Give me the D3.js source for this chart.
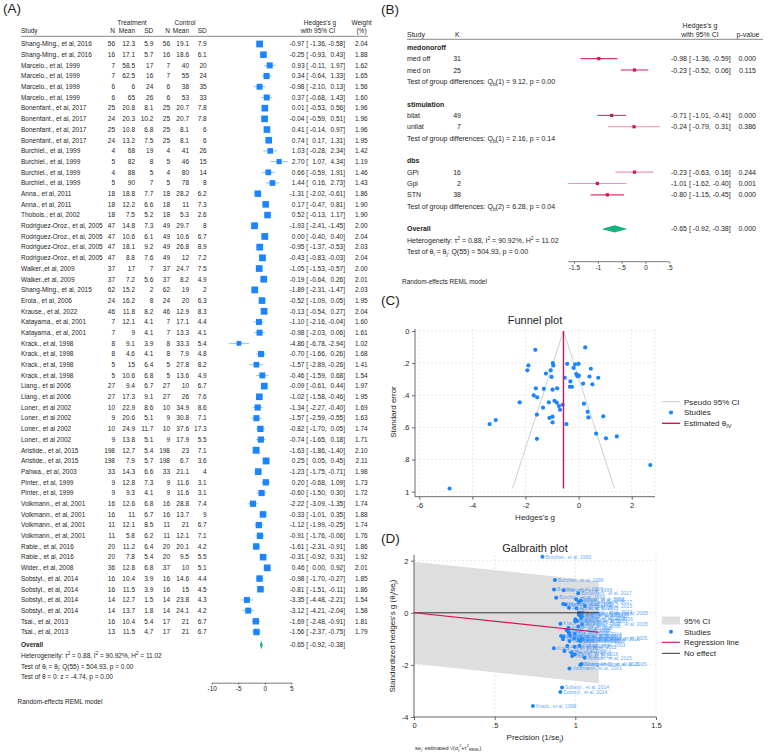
<!DOCTYPE html>
<html>
<head>
<meta charset="utf-8">
<script src="https://cdn.jsdelivr.net/npm/d3@7"></script>
<style>
  html, body { margin: 0; padding: 0; background: #fff; }
  svg { display: block; font-family: "Liberation Sans", Arial, Helvetica, sans-serif; }
</style>
</head>
<body>
<svg id="fig" width="767" height="754"></svg>
<script>
// ============================================================
// Meta-analysis figure: forest plot, subgroup forest, funnel, Galbraith
// ============================================================

// ---- (A) study-level data ----
const studies = [
  'Shang-Ming., et al, 2016', 'Shang-Ming., et al, 2016',
  'Marcelo., et al, 1999', 'Marcelo., et al, 1999', 'Marcelo., et al, 1999', 'Marcelo., et al, 1999',
  'Bonenfant., et al, 2017', 'Bonenfant., et al, 2017', 'Bonenfant., et al, 2017', 'Bonenfant., et al, 2017',
  'Burchiel., et al, 1999', 'Burchiel., et al, 1999', 'Burchiel., et al, 1999', 'Burchiel., et al, 1999',
  'Anna., et al, 2011', 'Anna., et al, 2011', 'Thobois., et al, 2002',
  'Rodriguez-Oroz., et al, 2005', 'Rodriguez-Oroz., et al, 2005', 'Rodriguez-Oroz., et al, 2005', 'Rodriguez-Oroz., et al, 2005',
  'Walker.,et al, 2009', 'Walker.,et al, 2009', 'Shang-Ming., et al, 2015',
  'Erola., et al, 2006', 'Krause., et al, 2022', 'Katayama., et al, 2001', 'Katayama., et al, 2001',
  'Krack., et al, 1998', 'Krack., et al, 1998', 'Krack., et al, 1998', 'Krack., et al, 1998',
  'Liang., et al 2006', 'Liang., et al 2006',
  'Loner., et al 2002', 'Loner., et al 2002', 'Loner., et al 2002', 'Loner., et al 2002',
  'Aristide., et al, 2015', 'Aristide., et al, 2015', 'Pahwa., et al, 2003',
  'Pinter., et al, 1999', 'Pinter., et al, 1999',
  'Volkmann., et al, 2001', 'Volkmann., et al, 2001', 'Volkmann., et al, 2001', 'Volkmann., et al, 2001',
  'Rabie., et al, 2016', 'Rabie., et al, 2016', 'Wider., et al, 2008',
  'Sobstyl., et al, 2014', 'Sobstyl., et al, 2014', 'Sobstyl., et al, 2014', 'Sobstyl., et al, 2014',
  'Tsai., et al, 2013', 'Tsai., et al, 2013'
];
const trtN = [56,16,7,7,6,6,25,24,25,24,4,5,4,5,18,18,18,47,47,47,47,37,37,62,24,46,7,7,8,8,5,5,27,27,10,9,10,9,198,198,33,9,9,16,16,11,11,20,20,36,16,16,14,14,16,13];
const trtMean = [12.3,17.1,58.5,62.5,6,65,20.8,20.3,10.8,13.2,68,82,88,90,18.8,12.2,7.5,14.8,10.6,18.1,8.8,17,7.2,15.2,16.2,11.8,12.1,9,9.1,4.6,15,10.6,9.4,17.3,22.9,20.6,24.9,13.8,12.7,7.9,14.3,12.8,9.3,12.6,11,12.1,5.8,11.2,7.8,12.8,10.4,11.5,12.7,13.7,10.4,11.5];
const trtSD = [5.9,5.7,17,16,24,26,8.1,10.2,6.8,7.5,19,8,5,7,7.7,6.6,5.2,7.3,6.1,9.2,7.6,7,5.6,2,8,8.2,4.1,4.1,3.9,4.1,6.4,6.8,6.7,9.1,8.6,5.1,11.7,5.1,5.4,5.7,6.6,7.3,4.1,6.8,6.7,8.5,6.2,6.4,5.4,6.8,3.9,3.9,1.5,1.8,5.4,4.7];
const ctlN = [56,16,7,7,6,6,25,25,25,25,4,5,4,5,18,18,18,49,49,49,49,37,37,62,24,46,7,7,8,8,5,5,27,27,10,9,10,9,198,198,33,9,9,16,16,11,11,20,20,37,16,16,14,14,17,17];
const ctlMean = [19.1,18.6,40,55,38,53,20.7,20.7,8.1,8.1,41,46,80,78,28.2,11,5.3,29.7,10.6,26.8,12,24.7,8.2,19,20,12.9,17.1,13.3,33.3,7.9,27.8,13.6,10,26,34.9,30.8,37.6,17.9,23,6.7,21.1,11.6,11.6,28.8,13.7,21,12.1,20.1,9.5,10,14.6,15,23.8,24.1,21,21];
const ctlSD = [7.9,6.1,20,24,35,33,7.8,7.8,6,6,26,15,14,8,6.2,7.3,2.6,8,6.7,8.9,7.2,7.5,4.9,2,6.3,8.3,4.4,4.1,5.4,4.8,8.2,4.9,6.7,7.6,8.6,7.1,17.3,5.5,7.1,3.6,4,3.1,3.1,7.4,9,6.7,7.1,4.2,5.5,5.1,4.4,4.5,4.3,4.2,6.7,6.7];
const hedgesG = [-0.97,-0.25,0.93,0.34,-0.98,0.37,0.01,-0.04,0.41,0.74,1.03,2.70,0.66,1.44,-1.31,0.17,0.52,-1.93,0.00,-0.95,-0.43,-1.05,-0.19,-1.89,-0.52,-0.13,-1.10,-0.98,-4.86,-0.70,-1.57,-0.46,-0.09,-1.02,-1.34,-1.57,-0.82,-0.74,-1.63,0.25,-1.23,0.20,-0.60,-2.22,-0.33,-1.12,-0.91,-1.61,-0.31,0.46,-0.98,-0.81,-3.35,-3.12,-1.69,-1.56];
const ciLow = [-1.36,-0.93,-0.11,-0.64,-2.10,-0.68,-0.53,-0.59,-0.14,0.17,-0.28,1.07,-0.59,0.16,-2.02,-0.47,-0.13,-2.41,-0.40,-1.37,-0.83,-1.53,-0.64,-2.31,-1.09,-0.54,-2.16,-2.03,-6.78,-1.66,-2.89,-1.59,-0.61,-1.58,-2.27,-2.59,-1.70,-1.65,-1.86,0.05,-1.75,-0.68,-1.50,-3.09,-1.01,-1.99,-1.76,-2.31,-0.92,0.00,-1.70,-1.51,-4.48,-4.21,-2.48,-2.37];
const ciHigh = [-0.58,0.43,1.97,1.33,0.13,1.43,0.56,0.51,0.97,1.31,2.34,4.34,1.91,2.73,-0.61,0.81,1.17,-1.45,0.40,-0.53,-0.03,-0.57,0.26,-1.47,0.05,0.27,-0.04,0.06,-2.94,0.26,-0.26,0.68,0.44,-0.46,-0.40,-0.55,0.05,0.18,-1.40,0.45,-0.71,1.09,0.30,-1.35,0.35,-0.25,-0.06,-0.91,0.31,0.92,-0.27,-0.11,-2.21,-2.04,-0.91,-0.75];
const weights = [2.04,1.88,1.62,1.65,1.56,1.60,1.96,1.96,1.96,1.95,1.42,1.19,1.46,1.43,1.86,1.90,1.90,2.00,2.04,2.03,2.04,2.00,2.01,2.03,1.95,2.04,1.60,1.61,1.02,1.68,1.41,1.54,1.97,1.95,1.69,1.63,1.74,1.71,2.10,2.11,1.98,1.73,1.72,1.74,1.88,1.74,1.76,1.86,1.92,2.01,1.85,1.86,1.54,1.58,1.81,1.79];
// standard errors of each Hedges's g (funnel y values)
const stdErr = [0.199,0.347,0.531,0.503,0.569,0.538,0.278,0.281,0.283,0.291,0.668,0.834,0.638,0.656,0.360,0.327,0.332,0.245,0.204,0.214,0.204,0.245,0.230,0.214,0.291,0.207,0.541,0.533,0.980,0.490,0.671,0.579,0.268,0.286,0.477,0.520,0.446,0.467,0.117,0.102,0.265,0.452,0.459,0.444,0.347,0.444,0.434,0.357,0.314,0.235,0.365,0.357,0.579,0.554,0.401,0.413];

const overall = { g: -0.65, lo: -0.92, hi: -0.38, p: '0.000' };
const tau2 = 0.88;
const thetaIV = -0.57;       // common-effect estimate drawn in the funnel
const galbraithMaxX = 1.145; // right end of CI band / lines in Galbraith plot

const statLines = [
  'Heterogeneity: τ^{2} = 0.88, I^{2} = 90.92%, H^{2} = 11.02',
  'Test of θ_{i} = θ_{j}: Q(55) = 504.93, p = 0.00',
  'Test of θ = 0: z = -4.74, p = 0.00'
];

// ---- (B) subgroup data ----
const groupNames = ['medonoroff', 'stimulation', 'dbs'];
const groupTests = [
  'Test of group differences: Q_{b}(1) = 9.12, p = 0.00',
  'Test of group differences: Q_{b}(1) = 2.16, p = 0.14',
  'Test of group differences: Q_{b}(2) = 6.28, p = 0.04'
];
const subLabel = ['med off', 'med on', 'bilat', 'unilat', 'GPi', 'Gpi', 'STN'];
const subGroup = [0, 0, 1, 1, 2, 2, 2];
const subK = [31, 25, 49, 7, 16, 2, 38];
const subG = [-0.98, -0.23, -0.71, -0.24, -0.23, -1.01, -0.80];
const subLo = [-1.36, -0.52, -1.01, -0.79, -0.63, -1.62, -1.15];
const subHi = [-0.59, 0.06, -0.41, 0.31, 0.16, -0.40, -0.45];
const subP = ['0.000', '0.115', '0.000', '0.386', '0.244', '0.001', '0.000'];

// ---- tick values / labels ----
const forestATicks = [-10, -5, 0, 5];
const forestBTicks = [-1.5, -1, -0.5, 0, 0.5];
const forestBLabels = ['-1.5', '-1', '-.5', '0', '.5'];
const funnelXTicks = [-6, -4, -2, 0, 2];
const funnelYTicks = [0, 0.2, 0.4, 0.6, 0.8, 1];
const funnelYLabels = ['0', '.2', '.4', '.6', '.8', '1'];
const galbXTicks = [0, 0.5, 1, 1.5];
const galbXLabels = ['0', '.5', '1', '1.5'];
const galbYTicks = [2, 0, -2, -4];

// ---- colours ----
const INK = '#1e1e1e';
const BLUE = '#1a85ff';
const PINK = '#d41159';
const GREEN = '#16b37c';
const GRID = '#e2e2e2';
const AXIS = '#444';

const svg = d3.select('#fig');
// plain hyphen-minus, like the original Stata output
const fmt = d3.formatLocale({ decimal: '.', thousands: ',', grouping: [3], currency: ['', ''], minus: '-' }).format;
const f2 = fmt('.2f');
const fInt = fmt('d');

// text with _{sub} and ^{sup} markup
function rich(text, str, fs) {
  const parts = str.split(/(_\{[^}]*\}|\^\{[^}]*\})/).filter(Boolean);
  let cur = 0;
  parts.forEach(p => {
    let off = 0, s = p, small = false;
    if (p.startsWith('_{')) { off = 0.28 * fs; s = p.slice(2, -1); small = true; }
    else if (p.startsWith('^{')) { off = -0.42 * fs; s = p.slice(2, -1); small = true; }
    const t = text.append('tspan').attr('dy', off - cur).text(s);
    if (small) t.attr('font-size', fs * 0.7);
    cur = off;
  });
  return text;
}

function label(g, x, y, str, fs, anchor) {
  const t = g.append('text').attr('x', x).attr('y', y).attr('font-size', fs)
    .attr('text-anchor', anchor || 'start');
  return rich(t, str, fs);
}

// CI text "g [ lo, hi]" with right-aligned columns
function ciText(g, y, vals, cols) {
  g.append('text').attr('x', cols.g).attr('y', y).attr('text-anchor', 'end').text(f2(vals.g));
  g.append('text').attr('x', cols.lb).attr('y', y).text('[');
  g.append('text').attr('x', cols.lo).attr('y', y).attr('text-anchor', 'end').text(f2(vals.lo));
  g.append('text').attr('x', cols.lo).attr('y', y).text(',');
  g.append('text').attr('x', cols.hi).attr('y', y).attr('text-anchor', 'end').text(f2(vals.hi));
  g.append('text').attr('x', cols.hi).attr('y', y).text(']');
}

// panel letters
[['(A)', 3, 13], ['(B)', 381, 13.5], ['(C)', 381, 305], ['(D)', 381, 543]].forEach(([t, x, y]) => {
  svg.append('text').attr('x', x).attr('y', y).attr('font-size', 13.5).attr('fill', INK).text(t);
});

// ============================================================
// (A) Forest plot
// ============================================================
(function () {
  const FS = 6.5;
  const A = svg.append('g').attr('font-size', FS).attr('fill', INK);
  const rowY = d3.scaleLinear().domain([0, studies.length - 1]).range([44, 632]);
  const x = d3.scaleLinear().domain([-10, 5]).range([211.7, 291.3]);
  const side = d3.scaleSqrt().domain([0, d3.max(weights)]).range([0, 6.9]);
  const cols = { g: 304.5, lb: 306.3, lo: 324.8, hi: 343.2 };
  const numCols = [[trtN, 115], [trtMean, 135], [trtSD, 153.3], [ctlN, 170], [ctlMean, 189], [ctlSD, 206.7]];

  // header
  A.append('text').attr('x', 132).attr('y', 25).attr('text-anchor', 'middle').text('Treatment');
  A.append('text').attr('x', 185).attr('y', 25).attr('text-anchor', 'middle').text('Control');
  A.append('text').attr('x', 21).attr('y', 33).text('Study');
  ['N', 'Mean', 'SD', 'N', 'Mean', 'SD'].forEach((h, k) => {
    A.append('text').attr('x', numCols[k][1]).attr('y', 33).attr('text-anchor', 'end').text(h);
  });
  A.append('text').attr('x', 320).attr('y', 25).attr('text-anchor', 'middle').text("Hedges's g");
  A.append('text').attr('x', 318).attr('y', 33).attr('text-anchor', 'middle').text('with 95% CI');
  A.append('text').attr('x', 361.5).attr('y', 25).attr('text-anchor', 'middle').text('Weight');
  A.append('text').attr('x', 361.5).attr('y', 33).attr('text-anchor', 'middle').text('(%)');
  A.append('line').attr('x1', 21).attr('x2', 368).attr('y1', 36.3).attr('y2', 36.3)
    .attr('stroke', '#555').attr('stroke-width', 0.7);

  // rows
  studies.forEach((name, i) => {
    const yc = rowY(i), yb = yc + 2.3;
    const row = A.append('g');
    row.append('text').attr('x', 21).attr('y', yb).text(name);
    numCols.forEach(([arr, cx]) => {
      row.append('text').attr('x', cx).attr('y', yb).attr('text-anchor', 'end').text(arr[i]);
    });
    ciText(row, yb, { g: hedgesG[i], lo: ciLow[i], hi: ciHigh[i] }, cols);
    row.append('text').attr('x', 367.7).attr('y', yb).attr('text-anchor', 'end').text(f2(weights[i]));

    row.append('line').attr('x1', x(ciLow[i])).attr('x2', x(ciHigh[i])).attr('y1', yc).attr('y2', yc)
      .attr('stroke', BLUE).attr('stroke-opacity', 0.5).attr('stroke-width', 1);
    const s = side(weights[i]);
    row.append('rect').attr('x', x(hedgesG[i]) - s / 2).attr('y', yc - s / 2)
      .attr('width', s).attr('height', s).attr('fill', BLUE);
  });

  // overall
  const yo = 645;
  A.append('text').attr('x', 21).attr('y', yo + 2.3).attr('font-weight', 'bold').text('Overall');
  A.append('path').attr('fill', GREEN)
    .attr('d', `M${x(overall.lo)},${yo}L${x(overall.g)},${yo - 4.2}L${x(overall.hi)},${yo}L${x(overall.g)},${yo + 4.2}Z`);
  ciText(A, yo + 2.3, overall, cols);
  statLines.forEach((s, k) => label(A, 21, 658 + k * 10.6, s, FS));

  // axis
  const axis = A.append('g').attr('transform', 'translate(0,682.7)')
    .call(d3.axisBottom(x).tickValues(forestATicks).tickFormat(fInt).tickSize(2).tickPadding(1.5).tickSizeOuter(0));
  axis.select('.domain').attr('stroke', AXIS).attr('stroke-width', 0.7);
  axis.selectAll('line').attr('stroke', AXIS).attr('stroke-width', 0.7);
  axis.selectAll('text').attr('font-size', FS).attr('fill', INK).attr('font-family', null);

  A.append('text').attr('x', 17.5).attr('y', 703.5).text('Random-effects REML model');
})();

// ============================================================
// (B) Subgroup forest plot
// ============================================================
(function () {
  const FS = 7;
  const B = svg.append('g').attr('font-size', FS).attr('fill', INK);
  const x = d3.scaleLinear().domain([-1.5, 0.5]).range([574, 669.3]);
  const lineY = i => 47.3 + i * 11.35;
  const cols = { g: 687, lb: 689, lo: 708.8, hi: 728.7 };

  B.append('text').attr('x', 700).attr('y', 27.5).attr('text-anchor', 'middle').text("Hedges's g");
  B.append('text').attr('x', 700).attr('y', 36.8).attr('text-anchor', 'middle').text('with 95% CI');
  B.append('text').attr('x', 748).attr('y', 36.8).attr('text-anchor', 'middle').text('p-value');
  B.append('text').attr('x', 407).attr('y', 36.8).text('Study');
  B.append('text').attr('x', 455).attr('y', 36.8).text('K');
  B.append('line').attr('x1', 407).attr('x2', 763).attr('y1', 39.3).attr('y2', 39.3)
    .attr('stroke', '#555').attr('stroke-width', 0.7);

  let line = 0;
  groupNames.forEach((gName, gi) => {
    B.append('text').attr('x', 407).attr('y', lineY(line) + 2.5).attr('font-weight', 'bold').text(gName);
    line++;
    subLabel.forEach((lab, i) => {
      if (subGroup[i] !== gi) return;
      const yc = lineY(line), yb = yc + 2.5;
      B.append('text').attr('x', 407).attr('y', yb).text(lab);
      B.append('text').attr('x', 461).attr('y', yb).attr('text-anchor', 'end').text(subK[i]);
      B.append('line').attr('x1', x(subLo[i])).attr('x2', x(subHi[i])).attr('y1', yc).attr('y2', yc)
        .attr('stroke', PINK).attr('stroke-width', 1.1).attr('stroke-opacity', subK[i] < 20 ? 0.45 : 0.85);
      B.append('rect').attr('x', x(subG[i]) - 1.6).attr('y', yc - 1.6).attr('width', 3.2).attr('height', 3.2)
        .attr('fill', PINK);
      ciText(B, yb, { g: subG[i], lo: subLo[i], hi: subHi[i] }, cols);
      B.append('text').attr('x', 756).attr('y', yb).attr('text-anchor', 'end').text(subP[i]);
      line++;
    });
    label(B, 407, lineY(line) + 2.5, groupTests[gi], FS);
    line += 2;
  });

  const yo = lineY(line);
  B.append('text').attr('x', 407).attr('y', yo + 2.5).attr('font-weight', 'bold').text('Overall');
  B.append('path').attr('fill', GREEN)
    .attr('d', `M${x(overall.lo)},${yo}L${x(overall.g)},${yo - 3.6}L${x(overall.hi)},${yo}L${x(overall.g)},${yo + 3.6}Z`);
  ciText(B, yo + 2.5, overall, cols);
  B.append('text').attr('x', 756).attr('y', yo + 2.5).attr('text-anchor', 'end').text(overall.p);
  label(B, 407, lineY(line + 1) + 2.5, statLines[0], FS);
  label(B, 407, lineY(line + 2) + 2.5, statLines[1], FS);

  const xmin = d3.min(subLo);
  const axis = B.append('g').attr('transform', 'translate(0,261.7)')
    .call(d3.axisBottom(x).tickValues(forestBTicks).tickFormat((d, i) => forestBLabels[i])
      .tickSize(2).tickPadding(1.5).tickSizeOuter(0));
  axis.select('.domain').attr('d', `M${x(xmin)},0H${x(0.5)}`).attr('stroke', AXIS).attr('stroke-width', 0.7);
  axis.selectAll('line').attr('stroke', AXIS).attr('stroke-width', 0.7);
  axis.selectAll('text').attr('font-size', 6.5).attr('fill', INK).attr('font-family', null);

  B.append('text').attr('x', 402).attr('y', 283.5).attr('font-size', 6.5).text('Random-effects REML model');
})();

// shared axis styling for scatter panels
function styleAxis(ax) {
  ax.select('.domain').remove();
  ax.selectAll('line').attr('stroke', AXIS).attr('stroke-width', 0.8);
  ax.selectAll('text').attr('font-size', 7.5).attr('fill', INK).attr('font-family', null);
}

// ============================================================
// (C) Funnel plot
// ============================================================
(function () {
  const C = svg.append('g').attr('fill', INK);
  const R = { l: 415, r: 655, t: 329, b: 496.7 };
  const x = d3.scaleLinear().domain([-6, 2]).range([419.3, 631.7]);
  const y = d3.scaleLinear().domain([0, 1]).range([331, 491.7]);

  // grid
  funnelXTicks.forEach(t => C.append('line').attr('x1', x(t)).attr('x2', x(t)).attr('y1', R.t).attr('y2', R.b)
    .attr('stroke', GRID).attr('stroke-dasharray', '2,2').attr('stroke-width', 0.8));
  funnelYTicks.forEach(t => C.append('line').attr('x1', R.l).attr('x2', R.r).attr('y1', y(t)).attr('y2', y(t))
    .attr('stroke', GRID).attr('stroke-dasharray', '2,2').attr('stroke-width', 0.8));
  C.append('line').attr('x1', R.r).attr('x2', R.r).attr('y1', R.t).attr('y2', R.b)
    .attr('stroke', GRID).attr('stroke-dasharray', '2,2').attr('stroke-width', 0.8);

  // pseudo 95% CI
  const seMax = d3.max(stdErr);
  const funnel = d3.line().x(d => x(d[0])).y(d => y(d[1]));
  C.append('path').attr('fill', 'none').attr('stroke', '#c9c9c9').attr('stroke-width', 0.9)
    .attr('d', funnel([[thetaIV - 1.96 * seMax, seMax], [thetaIV, 0], [thetaIV + 1.96 * seMax, seMax]]));

  C.selectAll('circle.pt').data(d3.range(hedgesG.length)).join('circle').attr('class', 'pt')
    .attr('cx', i => x(hedgesG[i])).attr('cy', i => y(stdErr[i])).attr('r', 2.1).attr('fill', BLUE);

  C.append('line').attr('x1', x(thetaIV)).attr('x2', x(thetaIV)).attr('y1', y(0)).attr('y2', y(seMax))
    .attr('stroke', PINK).attr('stroke-width', 1.4);

  // axes
  C.append('path').attr('fill', 'none').attr('stroke', AXIS).attr('stroke-width', 0.8)
    .attr('d', `M${R.l},${R.t}V${R.b}H${R.r}`);
  const xa = C.append('g').attr('transform', `translate(0,${R.b})`)
    .call(d3.axisBottom(x).tickValues(funnelXTicks).tickFormat(fInt).tickSize(3).tickPadding(2.5));
  styleAxis(xa);
  const ya = C.append('g').attr('transform', `translate(${R.l},0)`)
    .call(d3.axisLeft(y).tickValues(funnelYTicks).tickFormat((d, i) => funnelYLabels[i]).tickSize(3).tickPadding(2.5));
  styleAxis(ya);

  C.append('text').attr('x', 535).attr('y', 323.5).attr('font-size', 11).attr('text-anchor', 'middle').text('Funnel plot');
  C.append('text').attr('x', 535).attr('y', 519.5).attr('font-size', 8).attr('text-anchor', 'middle').text("Hedges's g");
  C.append('text').attr('transform', 'translate(396,412) rotate(-90)').attr('font-size', 8)
    .attr('text-anchor', 'middle').text('Standard error');

  // legend
  const L = C.append('g').attr('font-size', 8);
  L.append('line').attr('x1', 662).attr('x2', 680).attr('y1', 401.7).attr('y2', 401.7).attr('stroke', '#c9c9c9');
  L.append('text').attr('x', 684).attr('y', 404.5).text('Pseudo 95% CI');
  L.append('circle').attr('cx', 671).attr('cy', 412.5).attr('r', 2.1).attr('fill', BLUE);
  L.append('text').attr('x', 684).attr('y', 415.3).text('Studies');
  L.append('line').attr('x1', 662).attr('x2', 680).attr('y1', 423.3).attr('y2', 423.3).attr('stroke', PINK).attr('stroke-width', 1.4);
  label(L, 684, 426.1, 'Estimated θ_{IV}', 8);
})();

// ============================================================
// (D) Galbraith plot
// ============================================================
(function () {
  const D = svg.append('g').attr('fill', INK);
  const R = { l: 414, r: 656, t: 555, b: 717 };
  const x = d3.scaleLinear().domain([0, 1.5]).range([414, 656]);
  const y = d3.scaleLinear().domain([-4, 2]).range([717, 560.7]);

  const pts = d3.range(hedgesG.length).map(i => {
    const sej = Math.sqrt(stdErr[i] * stdErr[i] + tau2);
    return { px: 1 / sej, py: hedgesG[i] / sej, name: studies[i] };
  });

  galbXTicks.forEach(t => D.append('line').attr('x1', x(t)).attr('x2', x(t)).attr('y1', R.t).attr('y2', R.b)
    .attr('stroke', GRID).attr('stroke-dasharray', '2,2').attr('stroke-width', 0.8));
  galbYTicks.forEach(t => D.append('line').attr('x1', R.l).attr('x2', R.r).attr('y1', y(t)).attr('y2', y(t))
    .attr('stroke', GRID).attr('stroke-dasharray', '2,2').attr('stroke-width', 0.8));

  // 95% CI band around the regression line
  const band = d3.area().x(d => x(d)).y0(d => y(overall.g * d - 1.96)).y1(d => y(overall.g * d + 1.96));
  D.append('path').attr('fill', '#dedede').attr('d', band([0, galbraithMaxX]));

  D.selectAll('circle.pt').data(pts).join('circle').attr('class', 'pt')
    .attr('cx', d => x(d.px)).attr('cy', d => y(d.py)).attr('r', 2).attr('fill', BLUE);
  D.selectAll('text.lab').data(pts).join('text').attr('class', 'lab')
    .attr('x', d => x(d.px) + 3).attr('y', d => y(d.py) + 1.8)
    .attr('font-size', 5).attr('fill', '#3f97fa').attr('fill-opacity', 0.85).text(d => d.name);

  D.append('line').attr('x1', x(0)).attr('x2', x(galbraithMaxX)).attr('y1', y(0)).attr('y2', y(0))
    .attr('stroke', '#333').attr('stroke-width', 1);
  D.append('line').attr('x1', x(0)).attr('x2', x(galbraithMaxX)).attr('y1', y(0)).attr('y2', y(overall.g * galbraithMaxX))
    .attr('stroke', PINK).attr('stroke-width', 1.1);

  D.append('path').attr('fill', 'none').attr('stroke', AXIS).attr('stroke-width', 0.8)
    .attr('d', `M${R.l},${R.t}V${R.b}H${R.r}`);
  const xa = D.append('g').attr('transform', `translate(0,${R.b})`)
    .call(d3.axisBottom(x).tickValues(galbXTicks).tickFormat((d, i) => galbXLabels[i]).tickSize(3).tickPadding(2.5));
  styleAxis(xa);
  const ya = D.append('g').attr('transform', `translate(${R.l},0)`)
    .call(d3.axisLeft(y).tickValues(galbYTicks).tickFormat(fInt).tickSize(3).tickPadding(2.5));
  styleAxis(ya);

  D.append('text').attr('x', 535).attr('y', 552).attr('font-size', 11).attr('text-anchor', 'middle').text('Galbraith plot');
  label(D, 535, 739.5, 'Precision (1/se_{j})', 8, 'middle');
  const yt = D.append('text').attr('transform', 'translate(394.5,636) rotate(-90)').attr('font-size', 8)
    .attr('text-anchor', 'middle');
  rich(yt, "Standardized hedges's g (θ_{j}/se_{j})", 8);
  label(D, 415, 749.5, 'se_{j}: estimated √(σ_{j}^{2}+τ^{2}_{REML})', 5.5);

  const L = D.append('g').attr('font-size', 8);
  L.append('rect').attr('x', 662).attr('y', 616.5).attr('width', 18).attr('height', 8).attr('fill', '#dedede');
  L.append('text').attr('x', 684).attr('y', 623.5).text('95% CI');
  L.append('circle').attr('cx', 671).attr('cy', 631.7).attr('r', 2).attr('fill', BLUE);
  L.append('text').attr('x', 684).attr('y', 634.5).text('Studies');
  L.append('line').attr('x1', 662).attr('x2', 680).attr('y1', 642.3).attr('y2', 642.3).attr('stroke', PINK).attr('stroke-width', 1.1);
  L.append('text').attr('x', 684).attr('y', 645.1).text('Regression line');
  L.append('line').attr('x1', 662).attr('x2', 680).attr('y1', 653.3).attr('y2', 653.3).attr('stroke', '#333').attr('stroke-width', 1);
  L.append('text').attr('x', 684).attr('y', 656.1).text('No effect');
})();
</script>
</body>
</html>
